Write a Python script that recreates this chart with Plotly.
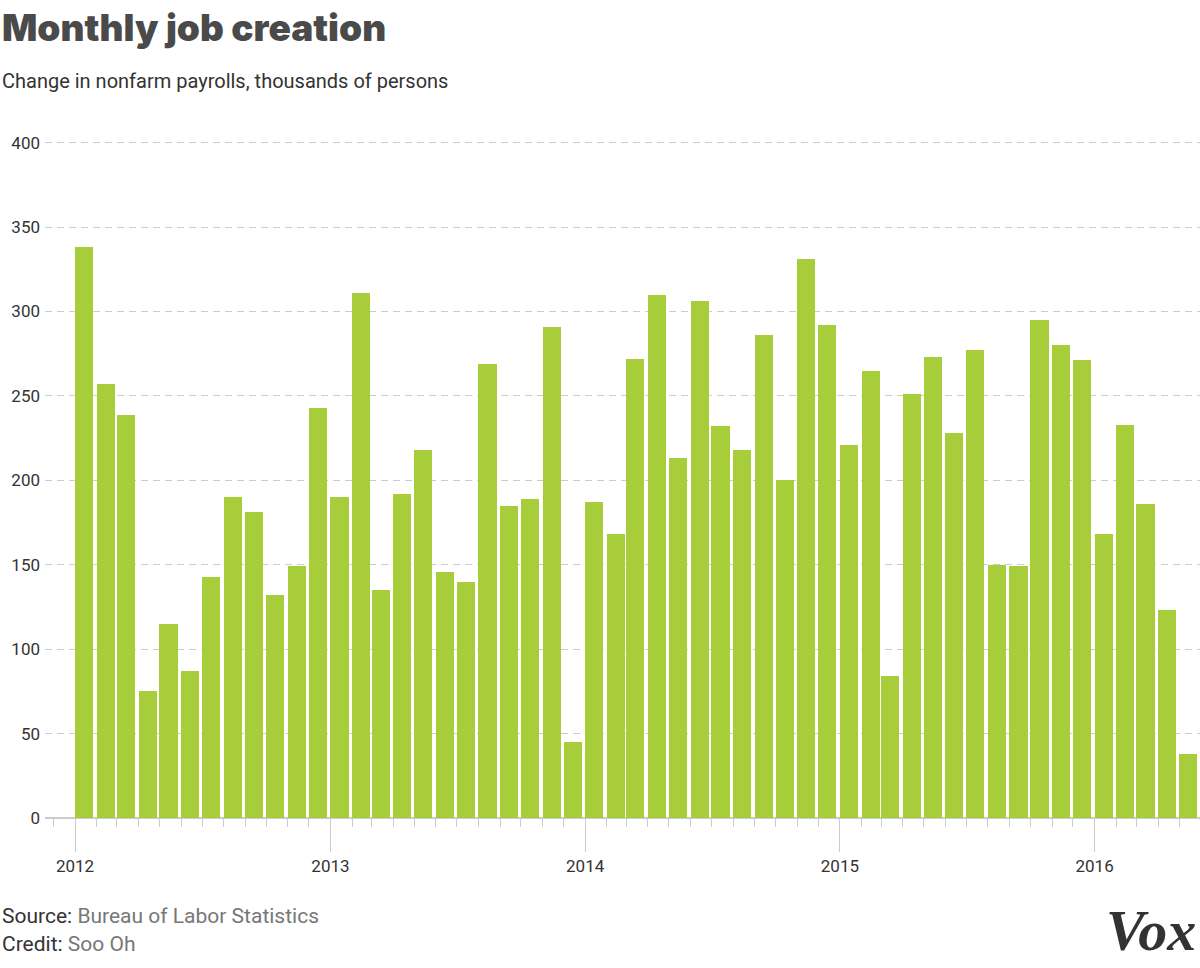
import pandas as pd
import plotly.graph_objects as go

# Monthly change in nonfarm payrolls (thousands), Jan 2012 - May 2016
months = pd.date_range("2012-01-01", "2016-05-01", freq="MS")
jobs_2012 = [338, 257, 239, 75, 115, 87, 143, 190, 181, 132, 149, 243]
jobs_2013 = [190, 311, 135, 192, 218, 146, 140, 269, 185, 189, 291, 45]
jobs_2014 = [187, 168, 272, 310, 213, 306, 232, 218, 286, 200, 331, 292]
jobs_2015 = [221, 265, 84, 251, 273, 228, 277, 150, 149, 295, 280, 271]
jobs_2016 = [168, 233, 186, 123, 38]
jobs = jobs_2012 + jobs_2013 + jobs_2014 + jobs_2015 + jobs_2016

y_ticks = [0, 50, 100, 150, 200, 250, 300, 350, 400]

BAR = "#a8cd3b"
GRID = "#cccccc"
TEXT = "#333333"
FONT = "Roboto"

# plot area: x 45..1200 px, y 141..818 px (y range 0..401 so the 400 grid shows)
PW, PH = 1155, 677
def px_x(p):
    return (p - 45) / PW
def px_y(p):
    return (818 - p) / PH

fig = go.Figure()
fig.add_trace(go.Bar(
    x=months,
    y=jobs,
    offset=0,
    width=26 * 24 * 3600 * 1000,
    marker=dict(color=BAR, line=dict(width=0)),
    hovertemplate="%{x|%b %Y}: %{y}<extra></extra>",
))

fig.update_layout(
    width=1200,
    height=968,
    margin=dict(l=45, r=0, t=141, b=150),
    plot_bgcolor="white",
    paper_bgcolor="white",
    showlegend=False,
    bargap=0,
    font=dict(family=FONT, color=TEXT, size=17),
)

fig.update_xaxes(
    type="date",
    range=["2011-11-19", "2016-05-31"],
    tick0="2012-01-01",
    dtick="M12",
    tickformat="%Y",
    ticks="outside",
    ticklen=33,
    tickwidth=1,
    tickcolor=GRID,
    tickfont=dict(size=17, color=TEXT),
    showgrid=False,
    showline=False,
    zeroline=False,
    minor=dict(dtick="M1", tick0="2012-01-01", ticks="outside",
               ticklen=8, tickwidth=1, tickcolor=GRID, showgrid=False),
)

fig.update_yaxes(
    range=[0, 401],
    tickvals=y_ticks,
    ticks="",
    tickfont=dict(size=17, color=TEXT),
    showgrid=True,
    gridcolor=GRID,
    gridwidth=1,
    griddash="7px,5px",
    zeroline=True,
    zerolinecolor=GRID,
    zerolinewidth=1.5,
    showline=False,
    ticklabelstandoff=4,
)

# titles
fig.add_annotation(
    text="Monthly job creation",
    xref="paper", yref="paper", x=px_x(0), y=px_y(27),
    xanchor="left", yanchor="middle", showarrow=False,
    font=dict(family="Inter", size=37, color="#4a4a4a", weight=900),
)
fig.add_annotation(
    text="Change in nonfarm payrolls, thousands of persons",
    xref="paper", yref="paper", x=px_x(0), y=px_y(81),
    xanchor="left", yanchor="middle", showarrow=False,
    font=dict(family=FONT, size=20, color=TEXT),
)

# footer
fig.add_annotation(
    text="Source: <span style='color:#777777'>Bureau of Labor Statistics</span>",
    xref="paper", yref="paper", x=px_x(0), y=px_y(916),
    xanchor="left", yanchor="middle", showarrow=False,
    font=dict(family=FONT, size=21, color=TEXT),
)
fig.add_annotation(
    text="Credit: <span style='color:#777777'>Soo Oh</span>",
    xref="paper", yref="paper", x=px_x(0), y=px_y(944),
    xanchor="left", yanchor="middle", showarrow=False,
    font=dict(family=FONT, size=21, color=TEXT),
)
fig.add_annotation(
    text="<b><i>Vox</i></b>",
    xref="paper", yref="paper", x=px_x(1198), y=px_y(931),
    xanchor="right", yanchor="middle", showarrow=False,
    font=dict(family="Liberation Serif", size=58, color="#333333"),
)

# drop the browser's default 8px body margin so the 1200x968 figure fits the window
fig.write_html("out.html", config={"displayModeBar": False},
               post_script="document.body.style.margin='0';")
